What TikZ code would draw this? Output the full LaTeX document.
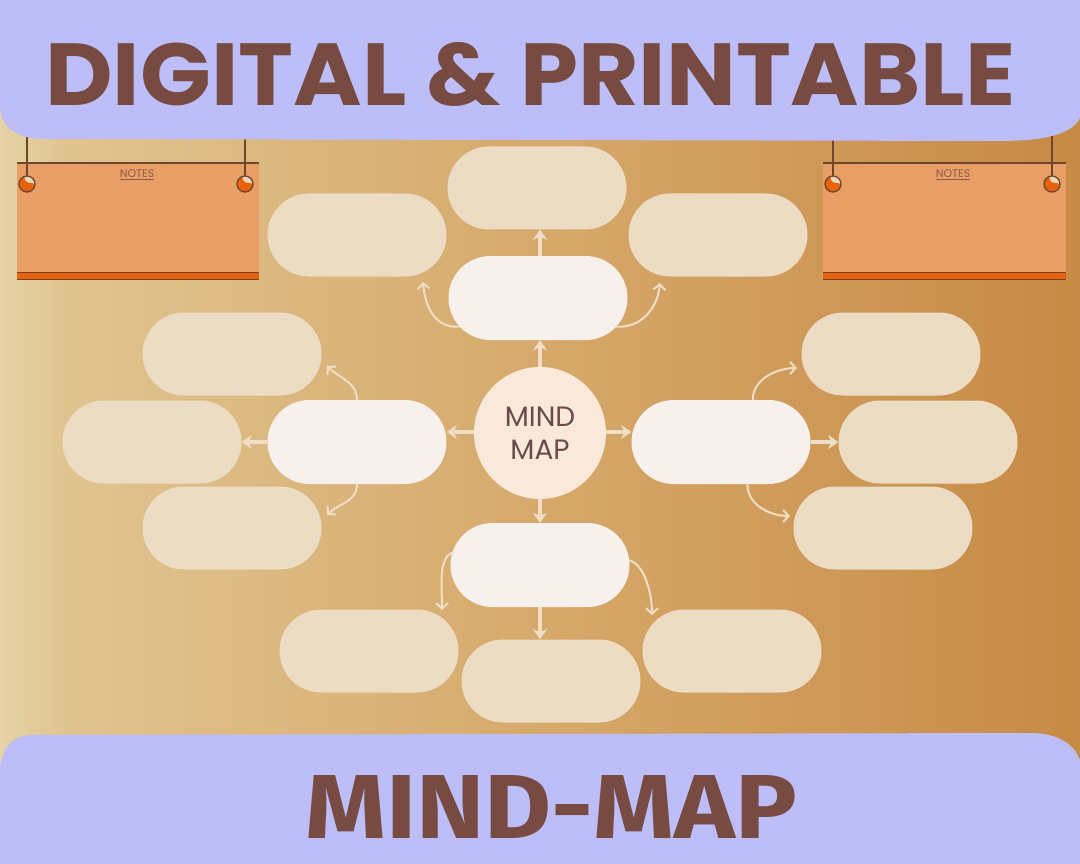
\documentclass[tikz,border=0pt]{standalone}
\usepackage{fontspec}
\usepackage{graphicx}
\usetikzlibrary{arrows.meta,shapes.misc}
\newfontfamily\popf{Poppins}
\newfontfamily\firaf{Fira Sans}
\definecolor{lav}{HTML}{BDBDF8}
\definecolor{titlec}{HTML}{774A42}
\definecolor{bgA}{HTML}{E6D3A6}
\definecolor{bgB}{HTML}{E0C490}
\definecolor{bgC}{HTML}{D6A96B}
\definecolor{bgD}{HTML}{C78A45}
\definecolor{pillw}{HTML}{F6F1EC}
\definecolor{pillb}{HTML}{ECDCC4}
\definecolor{arrc}{HTML}{F0DEC6}
\definecolor{circc}{HTML}{F8E9DA}
\definecolor{circt}{HTML}{6B4A4A}
\definecolor{boardc}{HTML}{E99E66}
\definecolor{stripec}{HTML}{E8620C}
\definecolor{linec}{HTML}{6E4630}
\definecolor{notesc}{HTML}{8C5A4C}
\definecolor{highc}{HTML}{EBD6B8}
\pgfdeclarehorizontalshading{bgshade}{100bp}{color(0bp)=(bgA); color(25bp)=(bgA); color(28bp)=(bgB); color(50bp)=(bgC); color(75bp)=(bgD); color(100bp)=(bgD)}
\begin{document}
\begin{tikzpicture}[x=1pt,y=-1pt,
  pillA/.style={rounded rectangle, fill=pillw, minimum width=179pt, minimum height=84pt, inner sep=0pt},
  pillB/.style={rounded rectangle, fill=pillb, minimum width=179pt, minimum height=83pt, inner sep=0pt},
  sarrow/.style={draw=arrc, line width=3.6pt, -{Stealth[length=10pt,width=14pt,inset=3pt]}},
  carrow/.style={draw=arrc, line width=2pt, line cap=round, -{Straight Barb[length=5.5pt,width=12pt]}},
  notesty/.style={font=\popf\fontsize{11}{13}\selectfont, text=notesc, inner sep=0pt},
  ring/.style={fill=stripec, draw=linec, line width=1.3pt}
]
\useasboundingbox (0,0) rectangle (1080,864);
% background
\shade[shading=bgshade] (0,0) rectangle (1080,864);

% notes boards
\foreach \bx/\ex/\sa/\sb/\nx [count=\i] in {17/259/27/245/137, 823/1066/833/1052/953}{
  \fill[boardc] (\bx,163) rectangle (\ex,280);
  \fill[stripec] (\bx,272.5) rectangle (\ex,279);
  \draw[linec, line width=0.8pt] (\bx,272.5) -- (\ex,272.5);
  \draw[linec, line width=1.4pt] (\bx,279.5) -- (\ex,279.5);
  \draw[linec, line width=2.4pt] (\bx,163) -- (\ex,163);
  \draw[linec, line width=1.4pt] (\sa,120) -- (\sa,176);
  \draw[linec, line width=1.4pt] (\sb,120) -- (\sb,176);
  \foreach \cx in {\sa,\sb}{
    \fill[stripec] (\cx,184) circle[radius=8];
    \fill[highc] (\cx+8,184) arc[start angle=0, end angle=-110, radius=8]
      .. controls (\cx-1,186) and (\cx+3,181) .. cycle;
    \draw[linec, line width=1.3pt] (\cx,184) circle[radius=8];
  }
  \node[notesty] (notes\i) at (\nx,175) {\underline{NOTES}};
}

% top banner
\fill[lav] (0,0) -- (1080,0) -- (1080,118) .. controls (1072,134) and (1045,141) .. (1000,141)
  -- (45,139) .. controls (18,139) and (0,128) .. (0,105) -- cycle;
\node[inner sep=0pt, anchor=base west, text=titlec] (title) at (45,106)
  {\resizebox{970pt}{63pt}{\popf\bfseries DIGITAL \& PRINTABLE}};

% bottom banner
\fill[lav] (0,766) .. controls (4,746) and (12,736) .. (32,735) -- (1030,733)
  .. controls (1058,733) and (1074,744) .. (1080,760) -- (1080,864) -- (0,864) -- cycle;
\node[inner sep=0pt, anchor=base west, text=titlec] (subtitle) at (305,838)
  {\resizebox{492pt}{63pt}{\firaf\bfseries MIND-MAP}};

% secondary pills
\node[pillB] (tt) at (537,188) {};
\node[pillB] (tl) at (357,235) {};
\node[pillB] (tr) at (718,235) {};
\node[pillB] (lt) at (232,354) {};
\node[pillB] (ll) at (152,442) {};
\node[pillB] (lb) at (232,528) {};
\node[pillB] (rt) at (891,354) {};
\node[pillB] (rr) at (928,442) {};
\node[pillB] (rb) at (883,528) {};
\node[pillB] (bl) at (369,651) {};
\node[pillB] (bm) at (551,681) {};
\node[pillB] (br) at (732,651) {};

% primary pills
\node[pillA] (tp) at (538,298) {};
\node[pillA] (lp) at (357,442) {};
\node[pillA] (rp) at (721,442) {};
\node[pillA] (bp) at (540,565) {};

% center
\node[circle, fill=circc, minimum size=132pt, inner sep=0pt, text=circt, align=center,
  font=\popf\fontsize{28}{33}\selectfont] (c) at (540,433) {MIND\\MAP};

% straight arrows
\draw[sarrow] (c.north) -- (c.north |- tp.south);
\draw[sarrow] (tp.north -| c.north) -- (c.north |- tt.south);
\draw[sarrow] ([yshift=1pt]c.west) -- ([yshift=1pt]c.west -| lp.east);
\draw[sarrow] (lp.west) -- (lp.west -| ll.east);
\draw[sarrow] ([yshift=1pt]c.east) -- ([yshift=1pt]c.east -| rp.west);
\draw[sarrow] (rp.east) -- (rp.east -| rr.west);
\draw[sarrow] (c.south) -- (c.south |- bp.north);
\draw[sarrow] (bp.south) -- (bp.south |- bm.north);

% curved arrows
\coordinate (e1) at (423,282);
\coordinate (e2) at (660,283);
\coordinate (e3) at (327,366);
\coordinate (e4) at (327,515);
\coordinate (e5) at (797,368);
\coordinate (e6) at (790,516);
\coordinate (e7) at (442,610);
\coordinate (e8) at (652,615);
\draw[carrow] (tp.200) .. controls +(-25,2) and +(2,24) .. (e1);
\draw[carrow] (tp.340) .. controls +(25,2) and +(-2,24) .. (e2);
\draw[carrow] (lp.north) .. controls +(0,-18) and +(12,12) .. (e3);
\draw[carrow] (lp.south) .. controls +(0,18) and +(12,-12) .. (e4);
\draw[carrow] (rp.53) .. controls +(0,-22) and +(-18,0) .. (e5);
\draw[carrow] (rp.302) .. controls +(0,22) and +(-18,0) .. (e6);
\draw[carrow] (bp.172) .. controls +(-14,6) and +(0,-24) .. (e7);
\draw[carrow] (bp.3) .. controls +(14,4) and +(0,-24) .. (e8);
\end{tikzpicture}
\end{document}
